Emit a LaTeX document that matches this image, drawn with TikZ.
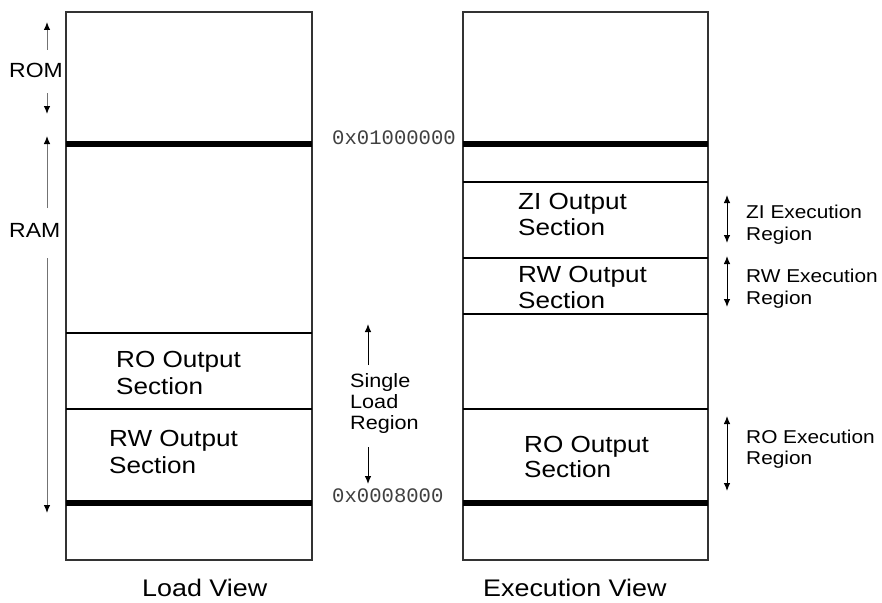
\documentclass[tikz,border=0pt]{standalone}
\usepackage{fontspec}
\setmainfont{Liberation Sans}[FakeStretch=1.12]
\newfontfamily\addrfont{Liberation Mono}
\usetikzlibrary{arrows.meta}

\tikzset{
  memframe/.style={draw=black!80, line width=1.3pt},
  sepline/.style={draw=black, line width=2pt},
  boundline/.style={draw=black, line width=5.5pt},
  tip/.tip={Latex[length=8pt,width=6.5pt,black]},
  dimarrow/.style={draw=black!55, line width=1pt, -tip},
  dimboth/.style={draw=black!55, line width=1pt, tip-tip},
  sectext/.style={anchor=base west, inner sep=0pt, font=\fontsize{23.3}{27}\selectfont},
  sidetext/.style={anchor=base west, inner sep=0pt, font=\fontsize{18.6}{22}\selectfont},
  memtext/.style={anchor=base west, inner sep=0pt, font=\fontsize{20.5}{24}\selectfont},
  loadtext/.style={anchor=base west, inner sep=0pt, font=\fontsize{19.3}{22}\selectfont},
  viewtext/.style={anchor=base west, inner sep=0pt, font=\fontsize{24}{28}\selectfont},
  addrtext/.style={anchor=base west, inner sep=0pt, text=black!75, font=\addrfont\fontsize{20.6}{24}\selectfont},
}

\begin{document}
\begin{tikzpicture}[x=1pt, y=-1pt]
\useasboundingbox (0,0) rectangle (882,602);

% ---- Load view ----
\draw[memframe] (66,12) rectangle (312,560);
\draw[boundline] (66,144) -- (312,144);
\draw[sepline] (66,333) -- (312,333);
\draw[sepline] (66,409) -- (312,409);
\draw[boundline] (66,503) -- (312,503);

\node[sectext] (lro1) at (116,367) {RO Output};
\node[sectext] (lro2) at (116,394) {Section};
\node[sectext] (lrw1) at (109,446) {RW Output};
\node[sectext] (lrw2) at (109,473) {Section};
\node[viewtext] (lview) at (142,596) {Load View};

% ROM / RAM extents
\node[memtext] (rom) at (9,77) {ROM};
\node[memtext] (ram) at (9,237) {RAM};
\coordinate (romtop) at (47,22);
\coordinate (romtopS) at (47,50);
\coordinate (rombot) at (47,114);
\coordinate (rombotS) at (47,93);
\coordinate (ramtop) at (47,136);
\coordinate (ramtopS) at (47,208);
\coordinate (rambot) at (47,513);
\coordinate (rambotS) at (47,258);
\draw[dimarrow] (romtopS) -- (romtop);
\draw[dimarrow] (rombotS) -- (rombot);
\draw[dimarrow] (ramtopS) -- (ramtop);
\draw[dimarrow] (rambotS) -- (rambot);

% ---- Addresses and load region ----
\node[addrtext] (addrhi) at (332,144) {0x01000000};
\node[addrtext] (addrlo) at (332,502) {0x0008000};

\node[loadtext] (sl1) at (350,387) {Single};
\node[loadtext] (sl2) at (350,408) {Load};
\node[loadtext] (sl3) at (350,429) {Region};
\coordinate (sltop) at (368,324);
\coordinate (sltopS) at (368,365);
\coordinate (slbot) at (368,484);
\coordinate (slbotS) at (368,447);
\draw[dimarrow, draw=black] (sltopS) -- (sltop);
\draw[dimarrow, draw=black] (slbotS) -- (slbot);

% ---- Execution view ----
\draw[memframe] (463,12) rectangle (708,560);
\draw[boundline] (463,144) -- (708,144);
\draw[sepline] (463,182) -- (708,182);
\draw[sepline] (463,258) -- (708,258);
\draw[sepline] (463,314) -- (708,314);
\draw[sepline] (463,409) -- (708,409);
\draw[boundline] (463,503) -- (708,503);

\node[sectext] (ezi1) at (518,209) {ZI Output};
\node[sectext] (ezi2) at (518,235) {Section};
\node[sectext] (erw1) at (518,282) {RW Output};
\node[sectext] (erw2) at (518,308) {Section};
\node[sectext] (ero1) at (524,452) {RO Output};
\node[sectext] (ero2) at (524,477) {Section};
\node[viewtext] (eview) at (483,596) {Execution View};

% execution region extents
\coordinate (zitop) at (727,195);
\coordinate (zibot) at (727,243);
\coordinate (rwtop) at (727,256);
\coordinate (rwbot) at (727,307);
\coordinate (rotop) at (727,416);
\coordinate (robot) at (727,491);
\draw[dimboth, draw=black] (zitop) -- (zibot);
\draw[dimboth, draw=black] (rwtop) -- (rwbot);
\draw[dimboth, draw=black] (rotop) -- (robot);

\node[sidetext] (zix1) at (746,218) {ZI Execution};
\node[sidetext] (zix2) at (746,240) {Region};
\node[sidetext] (rwx1) at (746,282) {RW Execution};
\node[sidetext] (rwx2) at (746,304) {Region};
\node[sidetext] (rox1) at (746,443) {RO Execution};
\node[sidetext] (rox2) at (746,464) {Region};
\end{tikzpicture}
\end{document}
